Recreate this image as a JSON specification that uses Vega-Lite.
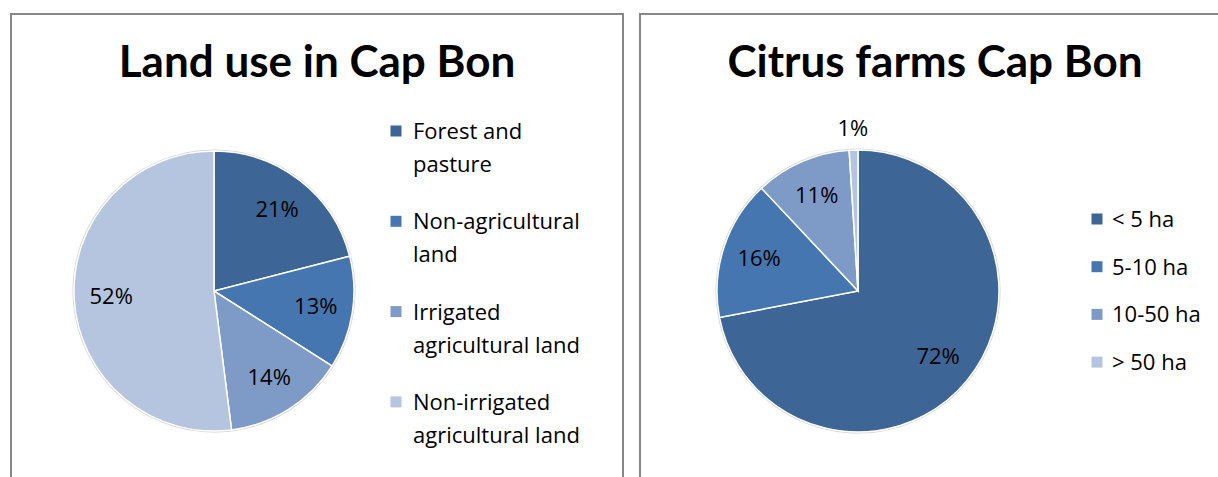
{
  "$schema": "https://vega.github.io/schema/vega-lite/v6.json",
  "background": "white",
  "padding": {"left": 10, "top": 13, "right": 0, "bottom": 0},
  "spacing": 15,
  "resolve": {"scale": {"color": "independent"}, "legend": {"color": "independent"}},
  "config": {
    "view": {"stroke": "#878787", "strokeWidth": 2},
    "font": "Open Sans",
    "style": {"guide-label": {"dy": 8, "lineHeight": 33}}
  },
  "hconcat": [
    {
      "width": 612,
      "height": 470,
      "view": {"stroke": "#878787", "strokeWidth": 2, "fill": "white"},
      "title": {"text": "Land use in Cap Bon", "font": "Lato", "fontSize": 44, "fontWeight": "bold", "color": "black", "anchor": "middle", "frame": "group", "baseline": "alphabetic", "offset": -107},
      "data": {"values": [
        {"category": "Forest and pasture", "share": 0.21},
        {"category": "Non-agricultural land", "share": 0.13},
        {"category": "Irrigated agricultural land", "share": 0.14},
        {"category": "Non-irrigated agricultural land", "share": 0.52}
      ]},
      "transform": [{"window": [{"op": "row_number", "as": "rank"}]}],
      "encoding": {
        "theta": {"field": "share", "type": "quantitative", "stack": true},
        "order": {"field": "rank", "type": "quantitative"},
        "color": {
          "field": "category", "type": "nominal",
          "scale": {"domain": ["Forest and pasture", "Non-agricultural land", "Irrigated agricultural land", "Non-irrigated agricultural land"], "range": ["#3D6596", "#4676B0", "#7E9BC8", "#B5C4DF"]},
          "legend": {
            "orient": "none", "legendX": 374, "legendY": 106, "title": null, "padding": 0,
            "symbolType": "square", "symbolSize": 121, "symbolStrokeWidth": 0, "symbolOpacity": 1,
            "labelFont": "Open Sans", "labelFontSize": 22, "labelColor": "black", "labelLimit": 400, "labelOffset": 6,
            "labelBaseline": "alphabetic", "rowPadding": 34.3,
            "labelExpr": "datum.label == 'Forest and pasture' ? ['Forest and', 'pasture'] : datum.label == 'Non-agricultural land' ? ['Non-agricultural', 'land'] : datum.label == 'Irrigated agricultural land' ? ['Irrigated', 'agricultural land'] : ['Non-irrigated', 'agricultural land']"
          }
        }
      },
      "layer": [
        {"mark": {"type": "arc", "radius": 141.5, "x": 203, "y": 277}, "encoding": {"color": {"value": "#d4d4d4"}}},
        {"mark": {"type": "arc", "radius": 140, "x": 203, "y": 277, "stroke": "white", "strokeWidth": 1.5}},
        {"mark": {"type": "text", "radius": 103, "x": 203, "y": 277, "font": "Open Sans", "fontSize": 22},
         "encoding": {"text": {"field": "share", "type": "quantitative", "format": ".0%"}, "detail": {"field": "category"}, "color": {"value": "black"}}}
      ]
    },
    {
      "width": 590,
      "height": 470,
      "view": {"stroke": "#878787", "strokeWidth": 2, "fill": "white"},
      "title": {"text": "Citrus farms Cap Bon", "font": "Lato", "fontSize": 44, "fontWeight": "bold", "color": "black", "anchor": "middle", "frame": "group", "baseline": "alphabetic", "offset": -107},
      "data": {"values": [
        {"size": "< 5 ha", "share": 0.72},
        {"size": "5-10 ha", "share": 0.16},
        {"size": "10-50 ha", "share": 0.11},
        {"size": "> 50 ha", "share": 0.01}
      ]},
      "transform": [{"window": [{"op": "row_number", "as": "rank"}]}],
      "encoding": {
        "theta": {"field": "share", "type": "quantitative", "stack": true},
        "order": {"field": "rank", "type": "quantitative"},
        "color": {
          "field": "size", "type": "nominal",
          "scale": {"domain": ["< 5 ha", "5-10 ha", "10-50 ha", "> 50 ha"], "range": ["#3D6596", "#4676B0", "#7E9BC8", "#B5C4DF"]},
          "legend": {
            "orient": "none", "legendX": 446, "legendY": 194, "title": null, "padding": 0,
            "symbolType": "square", "symbolSize": 121, "symbolStrokeWidth": 0, "symbolOpacity": 1,
            "labelFont": "Open Sans", "labelFontSize": 22, "labelColor": "black", "labelLimit": 400, "labelOffset": 4,
            "labelBaseline": "alphabetic", "rowPadding": 24.7
          }
        }
      },
      "layer": [
        {"mark": {"type": "arc", "radius": 142.5, "x": 218, "y": 277}, "encoding": {"color": {"value": "#d4d4d4"}}},
        {"mark": {"type": "arc", "radius": 141, "x": 218, "y": 277, "stroke": "white", "strokeWidth": 1.5}},
        {"mark": {"type": "text", "x": 218, "y": 277, "font": "Open Sans", "fontSize": 22},
         "encoding": {
           "text": {"field": "share", "type": "quantitative", "format": ".0%"},
           "radius": {"field": "share", "type": "quantitative", "scale": {"type": "linear", "domain": [0, 0.049, 0.05, 1], "range": [162, 162, 104, 104], "zero": false, "nice": false}},
           "detail": {"field": "size"},
           "color": {"value": "black"}
         }}
      ]
    }
  ]
}
